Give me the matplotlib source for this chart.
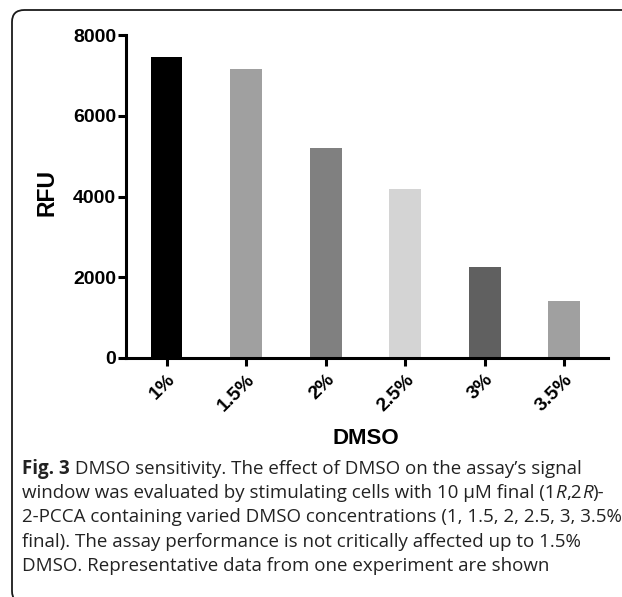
import numpy as np
import matplotlib
matplotlib.use("Agg")
import matplotlib.pyplot as plt
from matplotlib.patches import FancyBboxPatch

# Datos del grafico
categorias = ["1%", "1.5%", "2%", "2.5%", "3%", "3.5%"]
rfu = [7450, 7150, 5200, 4180, 2250, 1420]
colores = ["#000000", "#a0a0a0", "#808080", "#d4d4d4", "#606060", "#a0a0a0"]
y_ticks = [0, 2000, 4000, 6000, 8000]

# Leyenda de la figura (segmentos: texto, peso, estilo)
leyenda = [
    [("Fig. 3", "bold", "normal"), (" DMSO sensitivity. The effect of DMSO on the assay\u2019s signal", "normal", "normal")],
    [("window was evaluated by stimulating cells with 10 \u00b5M final (1", "normal", "normal"), ("R", "normal", "italic"),
     (",2", "normal", "normal"), ("R", "normal", "italic"), (")-", "normal", "normal")],
    [("2-PCCA containing varied DMSO concentrations (1, 1.5, 2, 2.5, 3, 3.5%", "normal", "normal")],
    [("final). The assay performance is not critically affected up to 1.5%", "normal", "normal")],
    [("DMSO. Representative data from one experiment are shown", "normal", "normal")],
]

W, H = 622, 597
fig = plt.figure(figsize=(W / 100, H / 100), dpi=100)

# Marco redondeado
marco = FancyBboxPatch((12 / W, 1 - 603 / H), 640 / W, 593 / H,
                       boxstyle="round,pad=0,rounding_size=0.02",
                       transform=fig.transFigure, fill=False,
                       edgecolor="#1a1a1a", linewidth=1.3)
fig.patches.append(marco)

ax = fig.add_axes([126 / W, 1 - 358 / H, (608 - 126) / W, (358 - 35) / H])
x = np.arange(len(categorias))
ax.bar(x, rfu, width=0.4, color=colores)

ax.set_xlim(-0.51, 5.55)
ax.set_ylim(0, 8000)
ax.set_yticks(y_ticks)
ax.set_xticks(x)

fuente = "Liberation Sans"
ax.set_yticklabels([str(v) for v in y_ticks], fontfamily=fuente, fontweight="bold", fontsize=14)
ax.set_xticklabels(categorias, fontfamily=fuente, fontweight="bold", fontsize=14,
                   rotation=45, ha="right", va="top", rotation_mode="anchor")

for lado in ["top", "right"]:
    ax.spines[lado].set_visible(False)
for lado in ["left", "bottom"]:
    ax.spines[lado].set_linewidth(2.2)
ax.tick_params(axis="both", direction="out", length=5.5, width=2.2, pad=1.5)
ax.tick_params(axis="x", pad=4)

fig.text(47 / W, 1 - 193 / H, "RFU", rotation=90, ha="center", va="center",
         fontfamily=fuente, fontweight="bold", fontsize=16.5)
fig.text(366 / W, 1 - 438 / H, "DMSO", ha="center", va="center",
         fontfamily=fuente, fontweight="bold", fontsize=16)

# Texto de la leyenda, segmento a segmento
renderer = fig.canvas.get_renderer()
y0 = 468.6
for i, linea in enumerate(leyenda):
    xpx = 22
    ypx = y0 + i * 24.4
    for texto, peso, estilo in linea:
        t = fig.text(xpx / W, 1 - ypx / H, texto, ha="left", va="center",
                     fontfamily="Open Sans", fontweight=peso, fontstyle=estilo,
                     fontsize=13.5, color="#222222")
        bb = t.get_window_extent(renderer=renderer)
        xpx += bb.width

fig.savefig("out.png", dpi=100)
